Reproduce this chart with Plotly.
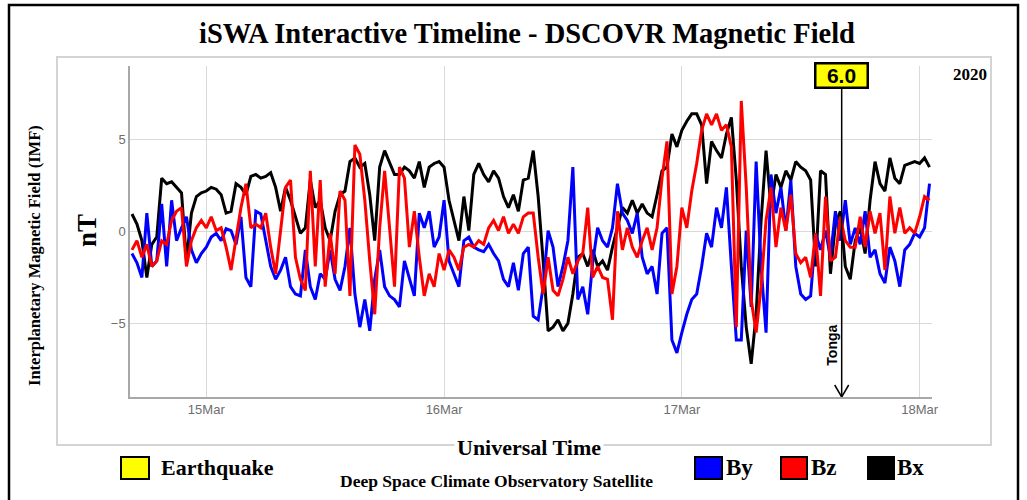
import pandas as pd
import plotly.graph_objects as go

# ---------------- data ----------------
start_time = "2020-03-14 16:30"
step = "30min"

bx = [0.95, 0.4, -0.5, -2.5, -0.7, -0.3, 2.9, 2.6, 2.7, 2.4,
      2.1, -1.6, 1.0, 1.9, 2.1, 2.2, 2.4, 2.3, 2.0, 1.0,
      1.1, 2.6, 2.4, 2.0, 3.0, 3.1, 2.9,
      3.0, 3.2, 2.4, 1.1, 2.4, 1.7, 0.8, -0.1, 0.2, 2.8,
      1.3, 1.7, 0.2, -0.5, 1.1, 2.0, 2.2, 3.8, 4.0, 3.5,
      3.7, 2.0, -0.5, 3.5, 4.4, 3.7, 3.1,
      3.1, 3.5, 3.3, 2.9, 3.8, 2.4, 3.5, 3.7, 3.8, 3.5,
      1.7, 0.6, -0.5, 1.9, 0.05, 3.1, 3.7, 3.1, 2.7, 3.3,
      2.9, 1.9, 1.3, 2.0, 1.1, 2.8, 2.9, 4.4,
      1.9, -1.6, -5.4, -5.2, -4.8, -5.4, -5.0, -3.4, -1.4, -1.2,
      -1.9, -1.0, -1.9, -1.6, -2.1, -0.85, 0.2, 1.3, 1.0, 1.7,
      1.0, 1.5, 1.0, 0.8, 2.0, 3.3, 3.5,
      5.3, 4.6, 5.5, 6.0, 6.4, 6.4, 5.8, 2.6, 4.9, 4.4,
      4.0, 5.3, 6.2, 2.8, -1.9, -5.2, -7.2, -4.5, 0.6, 4.4,
      1.3, 3.1, 2.4, 3.3, 2.8, 3.8, 3.5,
      3.3, 2.8, -1.9, 3.3, 3.1, -2.3, 0.4, 1.1, -1.9, -2.6,
      -0.5, 0.2, -1.2, 1.7, 3.8, 2.6, 2.2, 4.0, 2.9, 2.6,
      3.6, 3.7, 3.8, 3.7, 4.0, 3.5]

by = [-1.2, -1.7, -2.5, 1.0, -1.9, -1.6, 1.5, -1.9, 1.7, -0.5,
      0.2, 0.8, -1.0, -1.7, -1.2, -0.85, -0.3, -0.1, -0.5, 0.15,
      0.05, -0.7, 0.8, -2.5, -3.0, 1.1, 0.95,
      -0.5, -1.9, -2.6, -2.1, -1.4, -3.0, -3.4, -3.5, -1.0, -3.0,
      -3.7, -2.3, -2.6, -1.0, -2.6, -3.2, -1.9, 0.2, -3.4, -5.2,
      -3.7, -5.4, -2.6, -1.0, -3.0, -3.5, -3.7,
      -4.1, -1.6, -2.6, -3.5, 1.0, 0.2, 1.1, -0.85, -0.3, 1.7,
      -1.6, -2.3, -3.0, -0.5, -0.3, -0.85, -1.0, -1.1, -0.7, -1.2,
      -1.6, -2.6, -3.0, -1.7, -3.2, -1.2, -0.85, -4.6,
      -4.8, -3.0, 0.05, -0.85, -3.0, -1.9, -0.5, 3.5, -3.7, -3.0,
      -4.5, -1.7, 0.2, -0.5, -0.85, 0.2, 2.6, 1.0, 0.6, -0.1,
      1.0, -1.4, -2.3, -1.9, -3.4, -0.1, 0.2,
      -5.9, -6.6, -5.5, -4.5, -3.7, -3.4, -1.9, -0.1, -0.85, 1.3,
      0.2, 2.4, -1.9, -5.9, -5.9, 0.05, -4.1, 3.8, -1.9, -5.5,
      3.1, 1.0, 2.4, 0.05, 2.8, -1.9, -3.4,
      -3.7, -3.5, -0.1, -1.0, 0.05, -1.4, 1.1, -0.5, 1.7, -0.7,
      0.2, -0.7, 1.1, -1.4, -1.0, -2.3, -2.8, -0.85, -1.6, -3.0,
      -1.0, -0.7, -0.1, -0.3, 0.2, 2.6]

bz = [-1.0, -0.5, -1.4, -0.7, -1.9, -1.6, -0.5, -0.7, 0.6, 1.1,
      1.3, -1.9, -0.5, 0.2, 0.6, 0.2, 0.8, 0.05, 0.2, -0.85,
      -2.1, -0.5, 1.3, 2.6, 0.2, 0.4, 0.2,
      1.0, -0.85, -2.3, 0.2, 2.4, 2.8, -1.4, -2.6, -3.2, 3.3,
      -1.9, 2.8, -3.0, -0.1, -2.3, 2.2, 1.7, -3.5, 4.7, 4.2,
      1.7, -1.6, -4.5, 0.2, 3.3, 0.2, -3.0,
      3.5, 2.9, -0.85, 1.1, -1.4, -3.5, -2.3, -3.0, -1.2, -2.1,
      -1.0, -1.4, -2.1, -0.85, -0.7, -0.85, -0.5, -0.7, 0.2, 0.6,
      0.05, 0.8, -0.1, 0.4, -0.1, 0.8, 1.0, 1.0,
      -1.4, -3.4, -1.4, -3.2, -3.5, -2.6, -1.4, -2.3, -1.6, -1.2,
      1.3, -2.5, -1.9, -2.5, -2.6, -4.8, 1.1, -1.0, 0.2, -0.85,
      -1.4, -0.5, 0.2, -1.0, 0.2, 2.9, 4.9,
      -3.4, -1.9, 1.3, 0.2, 2.2, 3.7, 5.5, 6.4, 5.8, 6.4,
      5.5, 5.8, 4.6, -5.2, 7.1, 2.4, -3.7, -5.5, -3.0, 0.6,
      2.4, -0.85, 1.3, 0.05, 2.0, -1.2, -1.7,
      -1.4, -2.5, -0.1, -3.5, 1.9, -1.6, -1.4, 0.8, -0.5, -0.85,
      -0.85, 0.8, -0.85, 1.1, -0.1, 1.0, -2.1, 1.9, -0.1, 1.3,
      -0.1, 0.2, -0.1, 0.8, 1.9, 1.7]

x_range = ["2020-03-14 16:18", "2020-03-18 01:15"]
y_range = [-9, 9]
y_ticks = [-5, 0, 5]
x_tick_vals = ["2020-03-15", "2020-03-16", "2020-03-17", "2020-03-18"]
x_tick_text = ["15Mar", "16Mar", "17Mar", "18Mar"]

quake_time = "2020-03-17 16:08"
quake_mag = "6.0"
quake_place = "Tonga"
year_label = "2020"

series_names = ["Bx", "By", "Bz"]
series_colors = {"Bx": "#000000", "By": "#0000ff", "Bz": "#ff0000"}

times = pd.date_range(start_time, periods=len(bx), freq=step)

# ---------------- layout helpers ----------------
W, H = 1027, 500
L, R, T, B = 130, 95, 66, 103
PW, PH = W - L - R, H - T - B


def px(x):
    return (x - L) / PW


def py(y):
    return (H - B - y) / PH


SERIF = "Liberation Serif"
SANS = "Liberation Sans"

fig = go.Figure()
for name, vals in zip(series_names, [bx, by, bz]):
    fig.add_trace(go.Scatter(x=times, y=vals, mode="lines", name=name,
                             line=dict(color=series_colors[name], width=3),
                             showlegend=False))

shapes = [
    dict(type="rect", xref="paper", yref="paper", x0=px(9), x1=px(1018),
         y0=py(530), y1=py(5), line=dict(color="black", width=2.5), layer="below"),
    dict(type="rect", xref="paper", yref="paper", x0=px(57), x1=px(991),
         y0=py(445), y1=py(57), line=dict(color="#d4d4d4", width=2), layer="below"),
    dict(type="line", xref="x", yref="y", xsizemode="pixel", ysizemode="pixel",
         xanchor=quake_time, yanchor=y_range[0], x0=-7, x1=0, y0=12, y1=0,
         line=dict(color="black", width=1.5)),
    dict(type="line", xref="x", yref="y", xsizemode="pixel", ysizemode="pixel",
         xanchor=quake_time, yanchor=y_range[0], x0=7, x1=0, y0=12, y1=0,
         line=dict(color="black", width=1.5)),
]

legend_boxes = [
    ("#ffff00", 121, 149),
    (series_colors["By"], 695, 722),
    (series_colors["Bz"], 781, 807),
    (series_colors["Bx"], 868, 894),
]
for col, xa, xb in legend_boxes:
    shapes.append(dict(type="rect", xref="paper", yref="paper",
                       x0=px(xa), x1=px(xb), y0=py(479), y1=py(457),
                       fillcolor=col, line=dict(color="black", width=2)))


def label(text, x, y, size, family=SERIF, xanchor="center", angle=0, **kw):
    return dict(text="<b>" + text + "</b>", x=px(x), y=py(y), xref="paper", yref="paper",
                xanchor=xanchor, yanchor="middle", showarrow=False, textangle=angle,
                font=dict(family=family, size=size, color="black"), **kw)


annotations = [
    label("iSWA Interactive Timeline - DSCOVR Magnetic Field", 527, 33, 28.5),
    label(year_label, 970, 74, 17),
    label("Interplanetary Magnetic Field (IMF)", 34, 256, 16.5, angle=-90),
    label("nT", 87, 231, 27, angle=-90),
    label("Universal Time", 529, 447, 22, bgcolor="white", borderpad=2),
    label("Earthquake", 159, 468, 22, xanchor="left"),
    label("Deep Space Climate Observatory Satellite", 496, 481, 17.5),
    label("By", 724, 467, 23, xanchor="left"),
    label("Bz", 809, 467, 23, xanchor="left"),
    label("Bx", 895, 467, 23, xanchor="left"),
    dict(text="<b>" + quake_mag + "</b>", x=quake_time, y=y_range[0], xref="x", yref="y",
         showarrow=True, arrowhead=0, arrowwidth=1.5, arrowcolor="black",
         ax=0, ay=-(H - B - 75), bgcolor="#ffff00", bordercolor="black",
         borderwidth=2.5, borderpad=0, width=50, height=22,
         font=dict(family=SANS, size=21, color="black")),
    dict(text="<b>" + quake_place + "</b>", x=quake_time, y=py(345), xref="x", yref="paper",
         xshift=-10, yanchor="middle", showarrow=False, textangle=-90,
         font=dict(family=SANS, size=14, color="black")),
]

fig.update_layout(
    width=W, height=H,
    margin=dict(l=L, r=R, t=T, b=B),
    paper_bgcolor="white", plot_bgcolor="white",
    shapes=shapes, annotations=annotations,
    xaxis=dict(type="date", range=x_range, tickvals=x_tick_vals, ticktext=x_tick_text,
               showgrid=True, gridcolor="#d9d9d9", gridwidth=1,
               showline=True, linecolor="#a8a8a8", linewidth=1.5, mirror=False,
               zeroline=False, ticks="",
               tickfont=dict(family=SANS, size=13, color="#6e6e6e")),
    yaxis=dict(range=y_range, tickvals=y_ticks,
               showgrid=True, gridcolor="#d9d9d9", gridwidth=1,
               showline=True, linecolor="#a8a8a8", linewidth=1.5, mirror=False,
               zeroline=False, ticks="",
               tickfont=dict(family=SANS, size=13, color="#6e6e6e")),
)

fig.write_html("out.html")
